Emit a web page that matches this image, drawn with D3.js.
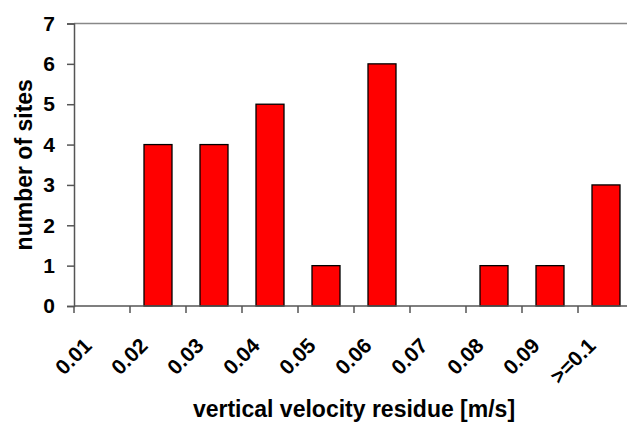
<!DOCTYPE html>
<html>
<head>
<meta charset="utf-8">
<script src="https://cdn.jsdelivr.net/npm/d3@7"></script>
<style>
  body { margin: 0; background: #fff; }
  text { font-family: "Liberation Sans", Arial, sans-serif; font-weight: bold; fill: #000; }
</style>
</head>
<body>
<div id="container"></div>
<script>
// histogram of vertical velocity residues
const categories = ["0.01", "0.02", "0.03", "0.04", "0.05", "0.06", "0.07", "0.08", "0.09", ">=0.1"]
const counts = [0, 4, 4, 5, 1, 6, 0, 1, 1, 3]
const yTicks = [0, 1, 2, 3, 4, 5, 6, 7]

const width = 627
const height = 422
const plot = { left: 74, right: 634, top: 23.5, bottom: 306 }

const svg = d3.select("#container")
    .append("svg")
    .attr("width", width)
    .attr("height", height)

const x = d3.scaleBand()
    .domain(categories)
    .range([plot.left, plot.right])
    .paddingInner(0.5)
    .paddingOuter(0.25)

const y = d3.scaleLinear()
    .domain([0, 7])
    .range([plot.bottom, plot.top])

const axisColor = "#555"

// top frame line
svg.append("line")
    .attr("x1", plot.left).attr("x2", width)
    .attr("y1", y(7)).attr("y2", y(7))
    .attr("stroke", "#888")
    .attr("stroke-width", 1.5)

// bars
svg.append("g")
    .selectAll("rect")
    .data(categories.map((c, i) => ({ c, v: counts[i] })))
    .join("rect")
    .attr("x", (d) => x(d.c))
    .attr("width", x.bandwidth())
    .attr("y", (d) => y(d.v))
    .attr("height", (d) => y(0) - y(d.v))
    .attr("fill", "#ff0000")
    .attr("stroke", "#000")
    .attr("stroke-width", 1.3)
    .attr("display", (d) => (d.v > 0 ? null : "none"))

// y axis
const yAxis = svg.append("g")
    .attr("transform", `translate(${plot.left},0)`)
    .call(d3.axisLeft(y).tickValues(yTicks).tickFormat(d3.format("d")).tickSize(7).tickPadding(12))
yAxis.select(".domain").attr("stroke", axisColor).attr("stroke-width", 1.5)
yAxis.selectAll(".tick line").attr("stroke", axisColor).attr("stroke-width", 1.5)
yAxis.selectAll(".tick text").style("font-size", "21px").attr("font-family", null)

// x axis: line + ticks between categories
const step = x.step()
svg.append("line")
    .attr("x1", plot.left).attr("x2", width)
    .attr("y1", y(0)).attr("y2", y(0))
    .attr("stroke", axisColor)
    .attr("stroke-width", 1.5)
svg.append("g")
    .selectAll("line")
    .data(categories)
    .join("line")
    .attr("x1", (d) => x(d) - step * 0.25)
    .attr("x2", (d) => x(d) - step * 0.25)
    .attr("y1", y(0))
    .attr("y2", y(0) + 7)
    .attr("stroke", axisColor)
    .attr("stroke-width", 1.5)

// rotated category labels
svg.append("g")
    .selectAll("text")
    .data(categories)
    .join("text")
    .attr("transform", (d) => `translate(${x(d) + x.bandwidth() / 2 - 9},347) rotate(-45)`)
    .attr("text-anchor", "end")
    .style("font-size", "21px")
    .text((d) => d)

// axis titles
svg.append("text")
    .attr("x", (plot.left + plot.right) / 2)
    .attr("y", 417)
    .attr("text-anchor", "middle")
    .style("font-size", "23px")
    .text("vertical velocity residue [m/s]")

svg.append("text")
    .attr("transform", `translate(32,${(plot.top + plot.bottom) / 2}) rotate(-90)`)
    .attr("text-anchor", "middle")
    .style("font-size", "23px")
    .text("number of sites")
</script>
</body>
</html>
